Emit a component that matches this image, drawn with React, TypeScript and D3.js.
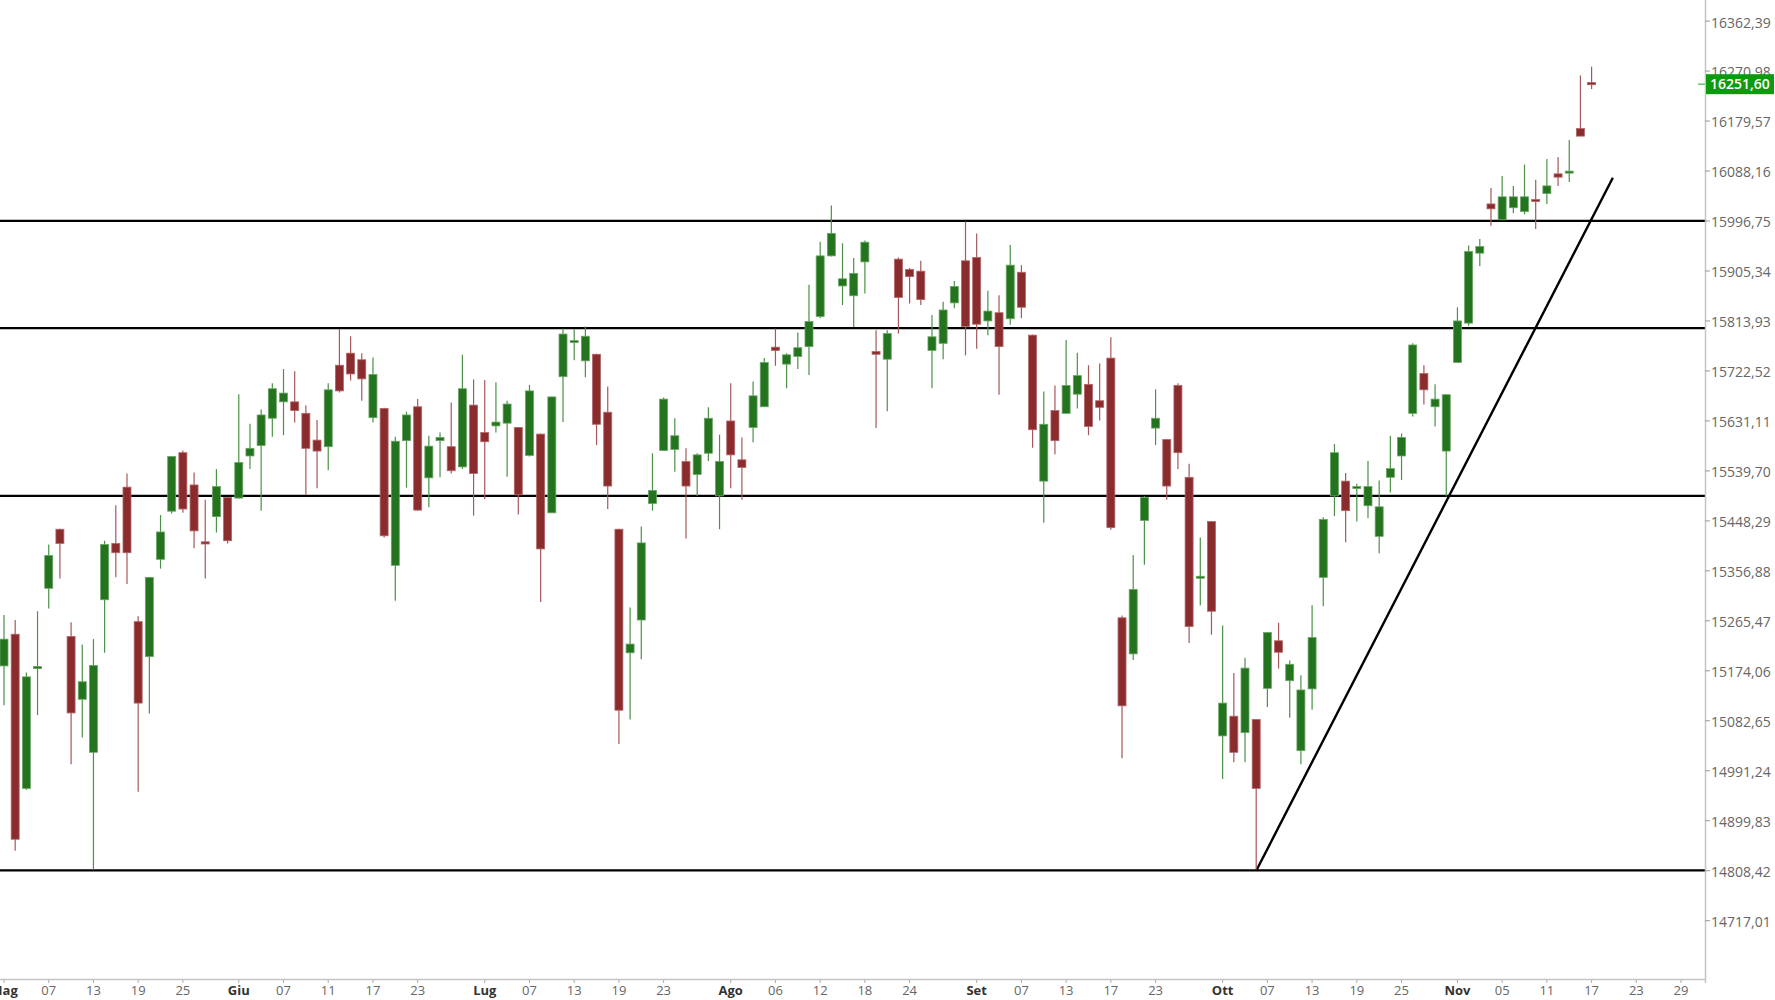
import React from "react";
import * as d3 from "d3";

// DAX daily candles, 3 May – 17 Nov 2021 (index = trading day)
const opens = [15183,15241,14959,15178,15325,15433,15237,15122,15025,15304,15407,15510,15264,15200,15378,15466,15573,15514,15410,15456,15491,15490,15567,15586,15636,15666,15666,15645,15596,15584,15733,15755,15743,15637,15654,15367,15595,15657,15527,15595,15584,15547,15660,15610,15622,15627,15619,15568,15607,15463,15712,15775,15741,15753,15647,15433,15207,15267,15480,15577,15579,15557,15533,15572,15494,15631,15560,15619,15657,15766,15735,15749,15767,15822,15933,15878,15860,15922,15758,15744,15927,15908,15905,15760,15773,15847,15924,15930,15814,15829,15818,15903,15788,15521,15650,15645,15680,15698,15668,15746,15271,15205,15449,15618,15597,15696,15528,15345,15447,15055,15091,15061,15085,15142,15229,15156,15028,15141,15345,15494,15521,15508,15476,15420,15528,15567,15645,15718,15657,15576,15738,15810,15938,16028,15999,16021,16014,16036,16047,16083,16086,16166,16250];
const highs = [15276,15267,15171,15283,15405,15434,15263,15222,15232,15412,15477,15535,15274,15345,15459,15566,15577,15537,15487,15543,15492,15680,15626,15652,15700,15726,15722,15660,15633,15700,15799,15786,15755,15747,15655,15602,15648,15671,15604,15610,15665,15752,15707,15706,15702,15668,15620,15697,15608,15676,15800,15799,15804,15754,15694,15434,15290,15438,15572,15674,15636,15581,15572,15656,15606,15700,15601,15703,15746,15800,15755,15793,15880,15959,16025,15956,15929,15961,15797,15797,15930,15911,15924,15825,15849,15887,15996,15974,15869,15861,15953,15916,15789,15685,15696,15779,15756,15733,15736,15784,15275,15386,15494,15689,15598,15700,15553,15418,15448,15257,15170,15198,15086,15244,15262,15193,15166,15294,15455,15589,15536,15516,15558,15522,15604,15608,15773,15733,15698,15680,15839,15952,15964,16057,16079,16061,16100,16072,16110,16114,16145,16263,16279];
const lows = [15111,14845,14956,15093,15288,15343,15003,15052,14810,15207,15345,15333,14953,15096,15361,15462,15463,15398,15343,15427,15407,15489,15543,15467,15602,15605,15628,15496,15508,15541,15683,15705,15668,15628,15418,15302,15509,15467,15473,15528,15535,15543,15458,15488,15610,15529,15460,15566,15300,15463,15629,15742,15711,15587,15470,15040,15085,15195,15467,15576,15538,15416,15494,15558,15433,15508,15487,15592,15657,15732,15691,15726,15715,15819,15932,15843,15803,15864,15618,15649,15791,15846,15843,15691,15744,15837,15751,15763,15788,15679,15807,15819,15582,15445,15570,15645,15654,15605,15632,15432,15014,15194,15368,15587,15487,15543,15225,15294,15240,14976,15007,15007,14810,15108,15178,15088,15003,15103,15292,15457,15409,15447,15453,15389,15500,15523,15639,15661,15621,15493,15738,15805,15914,15988,15998,16011,16009,15982,16028,16061,16068,16152,16238];
const closes = [15232,14866,15163,15182,15385,15407,15097,15154,15184,15405,15390,15390,15115,15345,15428,15566,15470,15430,15406,15511,15412,15555,15581,15642,15690,15682,15650,15581,15576,15688,15686,15717,15708,15716,15421,15594,15642,15468,15585,15601,15540,15690,15535,15593,15629,15662,15496,15686,15397,15675,15790,15778,15786,15625,15512,15102,15223,15408,15504,15671,15604,15512,15569,15636,15557,15569,15546,15677,15738,15760,15752,15765,15813,15933,15974,15891,15901,15958,15753,15791,15857,15895,15853,15785,15834,15877,15804,15808,15832,15767,15916,15839,15615,15625,15595,15696,15714,15621,15656,15436,15110,15323,15491,15636,15512,15573,15255,15347,15283,15115,15025,15179,14959,15244,15208,15186,15139,15235,15451,15573,15467,15511,15511,15474,15544,15601,15770,15688,15671,15679,15814,15941,15950,16019,16041,16041,16041,16033,16061,16077,16088,16152,16246];

const yTickLabels = ["16362,39","16270,98","16179,57","16088,16","15996,75","15905,34","15813,93","15722,52","15631,11","15539,70","15448,29","15356,88","15265,47","15174,06","15082,65","14991,24","14899,83","14808,42","14717,01"];
const yTickValues = [16362.39,16270.98,16179.57,16088.16,15996.75,15905.34,15813.93,15722.52,15631.11,15539.70,15448.29,15356.88,15265.47,15174.06,15082.65,14991.24,14899.83,14808.42,14717.01];

const xTickIdx = [0,4,8,12,16,21,25,29,33,37,43,47,51,55,59,65,69,73,77,81,87,91,95,99,103,109,113,117,121,125,130,134,138,142,146,150];
const xTickLabels = ["Mag","07","13","19","25","Giu","07","11","17","23","Lug","07","13","19","23","Ago","06","12","18","24","Set","07","13","17","23","Ott","07","13","19","25","Nov","05","11","17","23","29"];

const levels = [15997, 15801, 15494, 14809];
const trendIdx = [112, 143.9];
const trendVal = [14808.42, 16076];
const lastPrice = 16247;
const lastPriceLabel = "16251,60";

const GREEN = "#24731e";
const GREEN_EDGE = "#6aa665";
const GREEN_WICK = "#4b9146";
const RED = "#8a2c2e";
const RED_EDGE = "#b36668";
const RED_WICK = "#a5585a";

export default function App() {
  const W = 1775, H = 1000;
  const plotRight = 1705;
  const axisY = 979;
  const x = d3.scaleLinear().domain([0, 142]).range([4, 1591.6]);
  const y = d3.scaleLinear().domain([14717.01, 16362.39]).range([920.7, 21.1]);
  const bw = 8;
  const font = "'Open Sans', 'Noto Sans', sans-serif";

  return (
    <div style={{ position: "absolute", left: 0, top: 0, width: W, height: H, background: "#fff" }}>
      <svg width={W} height={H} style={{ display: "block" }}>
        <rect x={0} y={0} width={W} height={H} fill="#fff" />
        <defs>
          <clipPath id="plot">
            <rect x={0} y={0} width={plotRight} height={axisY} />
          </clipPath>
        </defs>
        <g clipPath="url(#plot)">
          {levels.map((lv, k) => (
            <line key={"lv" + k} x1={0} x2={plotRight} y1={y(lv)} y2={y(lv)} stroke="#000" strokeWidth={2.2} />
          ))}
          <line x1={x(trendIdx[0])} y1={y(trendVal[0])} x2={x(trendIdx[1])} y2={y(trendVal[1])} stroke="#000" strokeWidth={2.4} />
          {opens.map((o, i) => {
            const c = closes[i];
            const up = c >= o;
            const cx = x(i);
            const top = y(Math.max(o, c));
            const bot = y(Math.min(o, c));
            const h = Math.max(bot - top, 2);
            return (
              <g key={i}>
                <line x1={cx} x2={cx} y1={y(highs[i])} y2={y(lows[i])} stroke={up ? GREEN_WICK : RED_WICK} strokeWidth={1.2} />
                <rect x={cx - bw / 2} y={top} width={bw} height={h} fill={up ? GREEN : RED} stroke={up ? GREEN_EDGE : RED_EDGE} strokeWidth={0.8} />
              </g>
            );
          })}
        </g>
        {/* axes */}
        <line x1={plotRight + 0.5} x2={plotRight + 0.5} y1={0} y2={axisY + 4} stroke="#c4c4c4" strokeWidth={1.5} />
        <line x1={0} x2={plotRight} y1={axisY + 0.5} y2={axisY + 0.5} stroke="#c4c4c4" strokeWidth={1.5} />
        {yTickValues.map((v, k) => (
          <g key={"yt" + k}>
            <line x1={plotRight} x2={plotRight + 5} y1={y(v)} y2={y(v)} stroke="#999" strokeWidth={1} />
            <text x={plotRight + 6} y={y(v) + 1.5} dy="0.35em" fontFamily={font} fontSize={14} fill="#666">{yTickLabels[k]}</text>
          </g>
        ))}
        {xTickIdx.map((ix, k) => {
          const isMonth = /[A-Za-z]/.test(xTickLabels[k]);
          return (
            <g key={"xt" + k}>
              <line x1={x(ix)} x2={x(ix)} y1={axisY + 1} y2={axisY + 4} stroke="#aaa" strokeWidth={1} />
              <text x={x(ix)} y={995} textAnchor="middle" fontFamily={font} fontSize={13}
                fontWeight={isMonth ? 700 : 400} fill={isMonth ? "#333" : "#666"}>{xTickLabels[k]}</text>
            </g>
          );
        })}
        {/* last price marker */}
        <line x1={plotRight - 7} x2={plotRight} y1={y(lastPrice)} y2={y(lastPrice)} stroke="#6cc46c" strokeWidth={1.5} />
        <rect x={plotRight + 1} y={y(lastPrice) - 10} width={68} height={20} fill="#0e9a0e" />
        <text x={plotRight + 5} y={y(lastPrice)} dy="0.36em" fontFamily={font} fontSize={14} fontWeight={600} fill="#fff">{lastPriceLabel}</text>
      </svg>
    </div>
  );
}
